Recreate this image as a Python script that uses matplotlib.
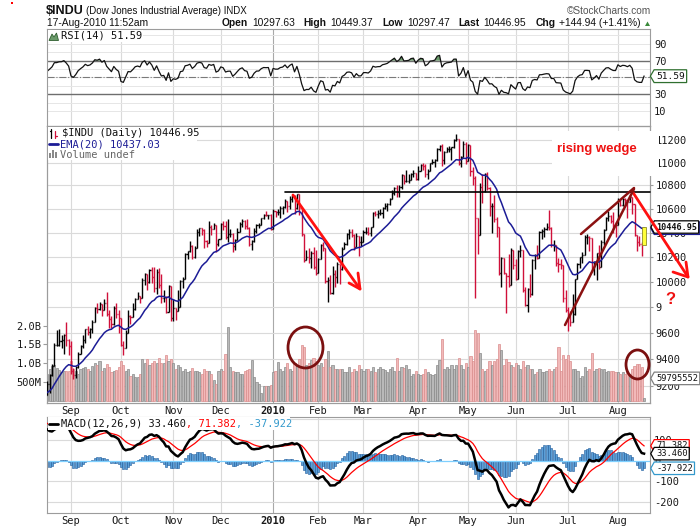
"""
$INDU daily bars (StockCharts look) with RSI(14), EMA(20), volume and
MACD(12,26,9) panels, plus the hand drawn "rising wedge" markup.
"""
import matplotlib
matplotlib.use("Agg")
import matplotlib.pyplot as plt
import matplotlib.transforms as mtransforms
import numpy as np
import pandas as pd
from matplotlib import font_manager as fm
from matplotlib.collections import LineCollection
from matplotlib.lines import Line2D
from matplotlib.patches import Ellipse, Polygon, Rectangle
from matplotlib.path import Path
from matplotlib.ticker import NullLocator

W, H = 700, 530

# --- data ---------------------------------------------------------------
holidays = ["2009-09-07", "2009-11-26", "2009-12-25", "2010-01-01", "2010-01-18",
            "2010-02-15", "2010-04-02", "2010-05-31", "2010-07-05"]
dates = pd.bdate_range("2009-08-18", "2010-08-17").drop(pd.to_datetime(holidays))

# closes May 2009 .. 17-Aug-2009, only used to warm up the indicators
warmup_closes = [
    8213, 8426, 8410, 8512, 8575, 8410, 8574, 8469, 8285, 8284, 8268, 8504, 8474, 8422, 8292, 8277, 8473, 8300, 8403, 8500,
    8721, 8741, 8676, 8751, 8764, 8764, 8763, 8739, 8770, 8799, 8612, 8504, 8497, 8555, 8539, 8339, 8323, 8299, 8472, 8438, 8529, 8447,
    8504, 8281, 8324, 8163, 8179, 8183, 8147, 8332, 8359, 8616, 8712, 8744, 8848, 8916, 8882, 9069, 9093, 9109, 9097, 9070, 9154, 9172,
    9286, 9320, 9280, 9257, 9370, 9338, 9242, 9362, 9398, 9321, 9136,
]

closes = [
    9217, 9279, 9350, 9505, 9509, 9539, 9543, 9580, 9544, 9496,
    9310, 9280, 9344, 9441, 9497, 9547, 9627, 9605, 9626, 9683, 9791, 9784, 9820, 9779, 9829, 9748, 9707, 9665, 9789, 9742, 9712,
    9509, 9487, 9599, 9731, 9725, 9786, 9865, 9885, 9871, 10015, 10062, 9995, 10092, 10041, 9949, 10081, 9972, 9868, 9882, 9762, 9962, 9713,
    9789, 9772, 9802, 10005, 10023, 10227, 10247, 10291, 10197, 10270, 10406, 10437, 10426, 10333, 10318, 10451, 10434, 10464, 10310, 10345,
    10471, 10453, 10366, 10388, 10390, 10286, 10337, 10405, 10472, 10501, 10452, 10441, 10309, 10329, 10414, 10464, 10467, 10520, 10547, 10545, 10548, 10428,
    10584, 10573, 10574, 10607, 10618, 10664, 10628, 10680, 10711, 10610, 10726, 10604, 10390, 10173, 10196, 10194, 10236, 10120, 10067,
    10185, 10297, 10271, 10002, 10013, 9908, 10058, 10038, 10144, 10099, 10268, 10309, 10392, 10402, 10383, 10283, 10375, 10321, 10325,
    10404, 10405, 10397, 10445, 10567, 10553, 10564, 10567, 10611, 10625, 10643, 10686, 10734, 10779, 10742, 10785, 10889, 10837, 10842, 10851, 10896, 10907, 10857,
    10927, 10974, 10970, 10898, 10928, 10998, 11005, 11019, 11123, 11145, 11019, 11092, 11117, 11124, 11135, 11204, 11205, 10992, 11045, 11168, 11009,
    11151, 10926, 10868, 10520, 10380, 10785, 10749, 10897, 10782, 10621, 10625, 10510, 10444, 10068, 10193, 10067, 10044, 9975, 10259, 10137,
    10025, 10250, 10256, 9932, 9816, 9940, 9899, 10173, 10212, 10191, 10405, 10410, 10434, 10450, 10442, 10294, 10298, 10152, 10144, 10138, 9870, 9774,
    9732, 9686, 9744, 10018, 10139, 10198, 10216, 10364, 10366, 10359, 10098, 10154, 10230, 10120, 10322, 10424, 10525, 10537, 10497, 10468, 10466,
    10674, 10636, 10680, 10675, 10654, 10698, 10644, 10379, 10320, 10303, 10302, 10446.95,
]

highs = [
    9235, 9290, 9365, 9520, 9620, 9630, 9580, 9590, 9680, 9550,
    9540, 9330, 9350, 9450, 9510, 9580, 9630, 9650, 9635, 9700, 9800, 9830, 9840, 9820, 9860, 9917, 9780, 9730, 9810, 9830, 9780,
    9712, 9540, 9620, 9780, 9740, 9830, 9870, 9920, 9890, 10030, 10070, 10065, 10100, 10115, 10120, 10100, 10110, 10060, 9930, 9885, 9970, 9965,
    9860, 9790, 9930, 10010, 10040, 10230, 10250, 10330, 10300, 10290, 10430, 10440, 10440, 10430, 10340, 10500, 10460, 10480, 10465, 10350,
    10480, 10500, 10500, 10516, 10430, 10395, 10345, 10440, 10490, 10515, 10505, 10510, 10445, 10340, 10440, 10470, 10480, 10525, 10560, 10580, 10550, 10555,
    10600, 10585, 10600, 10620, 10620, 10680, 10670, 10710, 10720, 10715, 10730, 10726, 10610, 10390, 10260, 10270, 10250, 10280, 10260,
    10190, 10310, 10320, 10275, 10040, 10050, 10130, 10090, 10160, 10145, 10280, 10320, 10400, 10430, 10430, 10390, 10400, 10375, 10370,
    10420, 10450, 10450, 10450, 10570, 10580, 10590, 10600, 10615, 10650, 10650, 10690, 10760, 10790, 10800, 10800, 10900, 10889, 10930, 10900, 10910, 10930, 10910,
    10970, 10990, 11000, 10990, 10945, 11000, 11030, 11030, 11130, 11155, 11160, 11100, 11140, 11150, 11140, 11210, 11258, 11205, 11060, 11190, 11180,
    11160, 11155, 10960, 10880, 10520, 10820, 10900, 10910, 10920, 10785, 10650, 10720, 10530, 10445, 10200, 10195, 10070, 10220, 10270, 10260,
    10180, 10255, 10300, 10260, 9960, 9950, 10060, 10180, 10220, 10300, 10410, 10430, 10450, 10480, 10594, 10450, 10340, 10298, 10190, 10180, 10138, 9930,
    9800, 9770, 9900, 10020, 10150, 10200, 10240, 10380, 10390, 10370, 10359, 10170, 10235, 10300, 10340, 10430, 10530, 10580, 10550, 10570, 10490,
    10690, 10675, 10690, 10690, 10675, 10720, 10700, 10645, 10380, 10370, 10320, 10449.37,
]

lows = [
    9136, 9145, 9270, 9350, 9500, 9500, 9480, 9440, 9500, 9430,
    9290, 9250, 9260, 9330, 9440, 9480, 9520, 9580, 9560, 9600, 9680, 9750, 9780, 9730, 9775, 9730, 9640, 9640, 9660, 9710, 9600,
    9500, 9430, 9480, 9595, 9670, 9725, 9780, 9860, 9830, 9870, 9970, 9930, 9990, 9990, 9920, 9900, 9950, 9830, 9840, 9750, 9760, 9690,
    9690, 9700, 9770, 9800, 9950, 10020, 10180, 10240, 10180, 10190, 10270, 10370, 10380, 10270, 10280, 10315, 10380, 10430, 10240, 10290,
    10345, 10420, 10350, 10320, 10360, 10240, 10260, 10337, 10405, 10450, 10430, 10430, 10290, 10260, 10325, 10400, 10440, 10467, 10510, 10540, 10510, 10420,
    10428, 10530, 10545, 10520, 10560, 10610, 10570, 10600, 10660, 10560, 10600, 10550, 10370, 10160, 10173, 10150, 10110, 10100, 10050,
    10067, 10185, 10250, 9990, 9835, 9900, 9905, 9960, 9990, 9985, 10095, 10268, 10300, 10350, 10360, 10260, 10280, 10210, 10290,
    10325, 10390, 10380, 10370, 10445, 10540, 10520, 10550, 10520, 10600, 10580, 10630, 10686, 10720, 10700, 10700, 10770, 10810, 10830, 10820, 10850, 10870, 10850,
    10850, 10927, 10930, 10870, 10860, 10925, 10990, 10960, 11015, 11100, 10970, 10990, 11090, 11090, 11020, 11130, 11190, 10980, 10960, 11045, 10990,
    11009, 10880, 10800, 9870, 10220, 10380, 10650, 10745, 10760, 10540, 10400, 10490, 10360, 10050, 9960, 10060, 9750, 9960, 9975, 10100,
    10010, 10025, 10200, 9915, 9810, 9757, 9880, 9895, 10100, 10180, 10190, 10350, 10360, 10420, 10420, 10280, 10250, 10130, 10080, 10100, 9840, 9760,
    9614, 9650, 9680, 9740, 10018, 10110, 10150, 10216, 10310, 10250, 10080, 10050, 10010, 10100, 10120, 10300, 10420, 10500, 10480, 10400, 10360,
    10466, 10620, 10620, 10620, 10520, 10654, 10560, 10370, 10250, 10290, 10210, 10297.47,
]
last_open = 10297.63

# volume, billions of shares
volume_b = [
    0.72, 0.85, 0.93, 0.95, 0.88, 0.82, 0.75, 0.78, 0.80, 0.78,
    1.05, 0.85, 0.80, 0.70, 0.85, 0.88, 0.90, 0.85, 0.78, 0.92, 1.00, 0.95, 1.06, 0.80, 0.88, 0.98, 0.90, 0.75, 0.80, 0.82, 0.90,
    1.06, 0.95, 0.80, 0.85, 0.65, 0.70, 0.62, 0.62, 0.70, 1.10, 1.00, 1.12, 0.95, 1.00, 1.05, 1.00, 1.13, 1.00, 1.00, 1.22, 1.05, 1.10,
    1.00, 0.85, 0.95, 0.90, 0.80, 0.85, 0.75, 0.80, 0.88, 0.78, 0.80, 0.76, 0.70, 0.85, 0.80, 0.78, 0.70, 0.55, 0.45, 0.80,
    0.85, 0.80, 1.24, 1.96, 0.89, 0.80, 0.75, 0.75, 0.70, 0.72, 0.80, 0.82, 0.85, 1.08, 0.62, 0.50, 0.45, 0.20, 0.40, 0.40, 0.40, 0.42,
    0.75, 0.80, 1.02, 0.85, 0.80, 0.90, 1.00, 0.85, 0.80, 1.00, 0.95, 1.10, 1.48, 1.44, 0.95, 1.00, 1.08, 1.13, 1.05,
    0.95, 1.00, 0.90, 1.10, 1.33, 0.90, 0.95, 0.85, 0.85, 0.85, 0.85, 0.75, 0.75, 0.90, 0.75, 0.85, 0.80, 0.95, 0.85,
    0.80, 0.85, 0.85, 0.80, 0.90, 0.75, 0.85, 0.90, 0.85, 0.82, 0.75, 0.85, 0.90, 0.80, 1.13, 0.80, 0.90, 0.88, 0.95, 0.85, 0.65, 0.70, 0.80,
    0.70, 0.68, 0.70, 0.85, 0.75, 0.70, 0.68, 0.72, 0.95, 1.08, 1.63, 0.85, 0.90, 0.85, 0.95, 0.85, 0.95, 1.13, 0.95, 0.85, 1.00,
    0.90, 1.20, 1.05, 1.88, 1.79, 1.26, 0.85, 0.80, 0.85, 1.05, 0.95, 1.05, 1.10, 1.51, 1.35, 0.95, 1.10, 1.04, 0.95, 0.90,
    1.00, 0.95, 0.85, 1.05, 0.90, 0.95, 0.85, 0.85, 0.70, 0.75, 0.85, 0.75, 0.75, 0.80, 0.85, 0.80, 0.85, 0.90, 1.42, 0.80, 1.21, 1.10,
    1.21, 1.05, 0.85, 0.85, 0.80, 0.60, 0.65, 0.90, 0.80, 0.85, 1.26, 0.80, 0.85, 0.88, 0.85, 0.85, 0.75, 0.80, 0.78, 0.80, 0.75,
    0.75, 0.72, 0.75, 0.70, 0.80, 0.72, 0.85, 0.92, 0.97, 0.97, 0.90, 0.06,
]

month_labels = ["Sep", "Oct", "Nov", "Dec", "2010", "Feb", "Mar", "Apr", "May", "Jun", "Jul", "Aug"]
price_ticks = [9200, 9400, 9600, 9800, 10000, 10200, 10400, 10600, 10800, 11000, 11200]
vol_ticks = [0.5, 1.0, 1.5, 2.0]
vol_labels = ["500M", "1.0B", "1.5B", "2.0B"]
rsi_ticks = [10, 30, 70, 90]          # the 50 label sits under the value tag
rsi_grid = [10, 20, 40, 50, 60, 80, 90, 100]
macd_ticks = [-200, -100, 0, 100]

# --- indicators ---------------------------------------------------------
series = pd.Series(warmup_closes + closes, dtype=float)
k = len(warmup_closes)
ema20 = series.ewm(span=20, adjust=False).mean().values[k:]
macd_all = series.ewm(span=12, adjust=False).mean() - series.ewm(span=26, adjust=False).mean()
signal_all = macd_all.ewm(span=9, adjust=False).mean()
macd = macd_all.values[k:]
signal = signal_all.values[k:]
hist = macd - signal
delta = series.diff()
gain = delta.clip(lower=0).ewm(alpha=1 / 14, adjust=False).mean()
loss = (-delta.clip(upper=0)).ewm(alpha=1 / 14, adjust=False).mean()
rsi = (100 - 100 / (1 + gain / loss)).values[k:]

n = len(closes)
idx = np.arange(n)
prev = np.array([warmup_closes[-1]] + closes[:-1], dtype=float)
opens = prev.copy()
opens[-1] = last_open
up = np.array(closes) > prev
month_pos = [i for i in range(1, n) if dates[i].month != dates[i - 1].month]

# --- fonts --------------------------------------------------------------
plt.rcParams["font.family"] = ["DejaVu Sans Mono"]
try:
    fm.findfont(fm.FontProperties(family="Liberation Sans Narrow"), fallback_to_default=False)
    NARROW, NSCALE = "Liberation Sans Narrow", 1.0
except ValueError:
    NARROW, NSCALE = "Liberation Sans", 0.82

# --- figure -------------------------------------------------------------
fig = plt.figure(figsize=(W / 100, H / 100), dpi=100, facecolor="white")


def frac(x, y):
    return x / W, 1 - y / H


def panel(left, top, right, bottom):
    return fig.add_axes([left / W, 1 - bottom / H, (right - left) / W, (bottom - top) / H])


ax_rsi = panel(47, 29.5, 650, 126)
ax = panel(47, 126, 650, 402.5)
ax_macd = panel(47, 416.5, 650, 513)
axv = ax.twinx()
ax.set_zorder(axv.get_zorder() + 1)
ax.patch.set_visible(False)

GRID = "#dadada"
for a in (ax_rsi, ax, axv, ax_macd):
    for sp in a.spines.values():
        sp.set_color("#9c9c9c")
        sp.set_linewidth(0.8)
for a in (ax_rsi, axv, ax_macd):
    for p in month_pos:
        a.axvline(p, color="#a9a9a9" if dates[p].month == 1 else GRID, lw=0.8, zorder=0)

# RSI panel
for lvl in rsi_grid:
    ax_rsi.axhline(lvl, color="#e6e6e6", lw=0.7, zorder=0)
ax_rsi.axhline(70, color="#6e6e6e", lw=1.0)
ax_rsi.axhline(30, color="#6e6e6e", lw=1.0)
ax_rsi.axhline(50, color="#7a7a7a", lw=0.8, ls="-.")
ax_rsi.fill_between(idx, rsi, 70, where=rsi > 70, interpolate=True, color="#6a9a6a", lw=0)
ax_rsi.fill_between(idx, rsi, 30, where=rsi < 30, interpolate=True, color="#6a9a6a", lw=0)
ax_rsi.plot(idx, rsi, color="#111111", lw=0.9)

# price + volume panel
tr = mtransforms.blended_transform_factory(axv.transAxes, ax.transData)
for p in price_ticks:
    axv.plot([0, 1], [p, p], transform=tr, color=GRID, lw=0.8, zorder=0)
axv.bar(idx, volume_b, width=0.9, zorder=2, lw=0.5,
        color=np.where(up, "#b9b9b9", "#f2b9b9"), edgecolor=np.where(up, "#8a8a8a", "#d98c8c"))

segs, cols = [], []
for i in range(n - 1):
    segs += [[(i, lows[i]), (i, highs[i])], [(i - 0.45, opens[i]), (i, opens[i])],
             [(i, closes[i]), (i + 0.45, closes[i])]]
    cols += ["#000000" if up[i] else "#d0103a"] * 3
ax.add_collection(LineCollection(segs, colors=cols, linewidths=1.0, zorder=3))
ax.plot(idx, ema20, color="#1c1c96", lw=1.1, zorder=4)
ax.add_patch(Rectangle((n - 1 - 0.85, last_open), 1.7, highs[-1] - last_open,
                       fc="#ffff3a", ec="#8c8c2a", lw=0.6, zorder=5))

# MACD panel
for lvl in (200, 100, -100, -200):
    ax_macd.axhline(lvl, color=GRID, lw=0.8, zorder=0)
ax_macd.bar(idx, hist, width=0.85, color="#5a9fd8", edgecolor="#1f5a99", lw=0.4, zorder=2)
ax_macd.axhline(0, color="#7fd0ff", lw=0.9, zorder=2.5)
ax_macd.plot(idx, signal, color="#ff0000", lw=0.9, zorder=3)
ax_macd.plot(idx, macd, color="#000000", lw=1.8, zorder=4)

# scales and ticks
for a in (ax_rsi, ax, axv, ax_macd):
    a.set_xlim(-0.1, 253.5)
ax.set_yscale("log")
ax.set_ylim(9079, 11326)
axv.set_ylim(-0.053, 7.32)
ax_rsi.set_ylim(-7.7, 107.1)
ax_macd.set_ylim(-256, 214.6)

tick_kw = dict(labelsize=7.5, labelcolor="#1a1a1a", color="#9c9c9c")
ax_rsi.set_xticks(month_pos)
ax_rsi.tick_params(axis="x", length=0, labelbottom=False)
ax_rsi.yaxis.tick_right()
ax_rsi.set_yticks(rsi_ticks, [str(v) for v in rsi_ticks])
ax_rsi.tick_params(axis="y", length=0, pad=3, **tick_kw)

ax.yaxis.tick_right()
ax.set_yticks(price_ticks, [str(v) for v in price_ticks])
ax.yaxis.set_minor_locator(NullLocator())
ax.tick_params(axis="y", length=2, pad=1.8, **tick_kw)
axv.yaxis.tick_left()
axv.set_yticks(vol_ticks, vol_labels)
axv.tick_params(axis="y", length=3, pad=1, **tick_kw)

ax_macd.yaxis.tick_right()
ax_macd.set_yticks(macd_ticks, [str(v) for v in macd_ticks])
ax_macd.tick_params(axis="y", length=0, pad=3, **tick_kw)

for a in (ax, ax_macd):
    a.set_xticks(month_pos, month_labels)
    a.tick_params(axis="x", length=0, pad=2.5, **tick_kw)
    a.get_xticklabels()[month_labels.index("2010")].set_fontweight("bold")


# value tags on the right edge
def tag_box(x0, y0, width, height, mutation_size):
    pad = 0.2 * mutation_size
    tip = 0.4 * mutation_size
    x0, y0 = x0 - pad, y0 - pad
    x1, y1 = x0 + width + 2 * pad, y0 + height + 2 * pad
    ym = (y0 + y1) / 2
    return Path([(x0 - tip, ym), (x0, y1), (x1, y1), (x1, y0), (x0, y0), (x0 - tip, ym)], closed=True)


def tag(a, yspec, value, text, edge, weight="normal", size=6.3, z=20):
    a.annotate(text, xy=(1, value), xycoords=("axes fraction", yspec), xytext=(6, 0),
               textcoords="offset pixels", ha="left", va="center", fontsize=size,
               fontweight=weight, color="#111111", annotation_clip=False, zorder=z,
               bbox=dict(boxstyle=tag_box, fc="white", ec=edge, lw=0.9))


tag(ax_rsi, "data", 51.59, "51.59", "#2f6f2f", size=6.8)
tag(ax, "data", 10437.03, "10437.03", "#1c1c96", z=19)
tag(ax, "data", 10446.95, "10446.95", "#000000", weight="bold", size=6.1)
tag(ax, axv.transData, 0.59, "59795552", "#808080")
tag(ax_macd, "data", 71.382, "71.382", "#ff0000")
tag(ax_macd, "data", 33.460, "33.460", "#000000")
tag(ax_macd, "data", -37.922, "-37.922", "#3399cc")


# --- text helpers -------------------------------------------------------
def runs(x, y, parts, size, family, align="left", z=8):
    r = fig.canvas.get_renderer()
    placed = []
    for s, color, weight, gap in parts:
        t = fig.text(0, 1 - y / H, s, color=color, fontsize=size, fontweight=weight,
                     family=family, va="center", ha="left", zorder=z)
        placed.append((t, t.get_window_extent(r).width + gap))
    if align == "right":
        x -= sum(w for _, w in placed)
    for t, w in placed:
        t.set_x(x / W)
        x += w


def box(l, t, r, b, z=7):
    fig.add_artist(Rectangle(frac(l, b), (r - l) / W, (b - t) / H, transform=fig.transFigure,
                             fc="white", ec="none", zorder=z))


def fline(pts, z=9, **kw):
    fig.add_artist(Line2D([p[0] / W for p in pts], [1 - p[1] / H for p in pts],
                          transform=fig.transFigure, zorder=z, solid_capstyle="round",
                          solid_joinstyle="round", **kw))


# header
BLK = "#111111"
runs(46, 11, [("$INDU", BLK, "bold", 4)], 9, ["Liberation Sans", "DejaVu Sans"])
runs(86, 11.5, [("(Dow Jones Industrial Average) INDX", BLK, "normal", 0)], 8.6 * NSCALE, NARROW)
runs(47, 23.5, [("17-Aug-2010 11:52am", BLK, "normal", 0)], 9 * NSCALE, NARROW)
runs(641, 23.5, [("Open", BLK, "bold", 4), ("10297.63", BLK, "normal", 9),
                 ("High", BLK, "bold", 4), ("10449.37", BLK, "normal", 9),
                 ("Low", BLK, "bold", 4), ("10297.47", BLK, "normal", 9),
                 ("Last", BLK, "bold", 4), ("10446.95", BLK, "normal", 9),
                 ("Chg", BLK, "bold", 4), ("+144.94 (+1.41%)", BLK, "normal", 0)],
     9 * NSCALE, NARROW, align="right")
fig.add_artist(Polygon([frac(645, 26), frac(650, 26), frac(647.5, 21.5)], closed=True,
                       transform=fig.transFigure, fc="#3a8a3a", ec="none", zorder=8))
fig.text(651 / W, 1 - 11 / H, "\u00a9StockCharts.com", color="#555555", fontsize=7.3,
         family=["Liberation Sans", "DejaVu Sans"], ha="right", va="center")
fig.add_artist(Rectangle(frac(11, 4), 2 / W, 2 / H, transform=fig.transFigure, fc="#ff0000", ec="none"))

# panel legends
box(47.6, 30.2, 143, 42)
fig.add_artist(Polygon([frac(49, 40.5), frac(52, 34), frac(54, 37), frac(56.5, 33), frac(58.5, 40.5)],
                       closed=True, transform=fig.transFigure, fc="#6a9a6a", ec="#2f5f2f", lw=0.6, zorder=8))
runs(61, 36, [("RSI(14) 51.59", BLK, "normal", 0)], 7.5, "DejaVu Sans Mono")

box(47.6, 126.6, 197, 160)
fline([(51, 129), (51, 137.5)], color="#000000", lw=0.9)
fline([(49.5, 131), (51, 131)], color="#000000", lw=0.9)
fline([(55.5, 130.5), (55.5, 138)], color="#d0103a", lw=0.9)
fline([(55.5, 136), (57, 136)], color="#d0103a", lw=0.9)
runs(62, 133.5, [("$INDU (Daily) 10446.95", BLK, "normal", 0)], 7.5, "DejaVu Sans Mono")
fline([(49, 144.3), (58, 144.3)], color="#1c1c96", lw=2)
runs(59.5, 144.5, [("EMA(20) 10437.03", "#1c1c96", "normal", 0)], 7.5, "DejaVu Sans Mono")
for x0, hgt in ((49, 5), (52, 8), (55, 6)):
    fig.add_artist(Rectangle(frac(x0, 158), 2.2 / W, hgt / H, transform=fig.transFigure,
                             fc="#8a8a8a", ec="none", zorder=8))
runs(59.5, 154.5, [("Volume undef", "#666666", "normal", 0)], 7.5, "DejaVu Sans Mono")

box(47.6, 417.1, 290, 429.5)
fline([(49, 423.8), (58, 423.8)], color="#000000", lw=2)
runs(61, 423.5, [("MACD(12,26,9) 33.460", BLK, "normal", 0), (", 71.382", "#ff0000", "normal", 0),
                 (", -37.922", "#3399cc", "normal", 0)], 7.5, "DejaVu Sans Mono")

# --- hand drawn markup --------------------------------------------------
fline([(285, 192.3), (650, 192.3)], color="#000000", lw=1.2)
fline([(293, 195), (360, 289)], color="#ff1010", lw=2)
fline([(358, 273), (360, 289), (349, 283)], color="#ff1010", lw=2)
fline([(632, 191), (688, 277)], color="#ff1010", lw=2)
fline([(686, 262), (688, 277), (673, 272)], color="#ff1010", lw=2)
fline([(581, 234), (634, 188)], color="#8b1111", lw=1.8)
fline([(565, 325), (634, 189)], color="#8b1111", lw=1.8)
for (cx, cy, ew, eh) in ((305.5, 347.5, 35, 41), (637.5, 364.5, 23, 29)):
    fig.add_artist(Ellipse(frac(cx, cy), ew / W, eh / H, transform=fig.transFigure,
                           fill=False, ec="#7b1010", lw=2, zorder=9))

box(552, 131, 659, 176)
fig.text(597 / W, 1 - 149 / H, "rising wedge", color="#ee1111", fontsize=11.5 * NSCALE,
         fontweight="bold", family=NARROW, ha="center", va="center", zorder=8)
box(662, 289, 700, 318)
fig.text(670 / W, 1 - 299 / H, "?", color="#ee1111", fontsize=12, fontweight="bold",
         family=NARROW, ha="center", va="center", zorder=8)

fig.savefig("out.png", dpi=100, facecolor="white")
